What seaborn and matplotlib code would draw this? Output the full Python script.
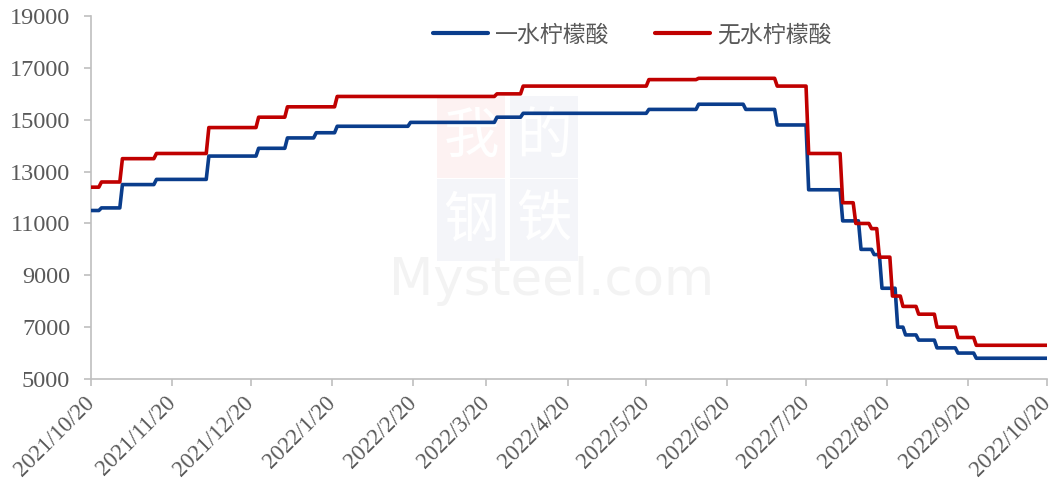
import pandas as pd
import matplotlib
matplotlib.use("Agg")
import matplotlib.pyplot as plt
import matplotlib.dates as mdates
from matplotlib.patches import Rectangle
import seaborn as sns

sns.set_theme(style="white")
plt.rcParams["font.family"] = ["Liberation Serif", "Noto Sans CJK SC"]

# price change dates and levels (price holds until the next change)
blue_name = "一水柠檬酸"
blue_dates = ["2021-10-20", "2021-10-24", "2021-11-01", "2021-11-14", "2021-12-04",
              "2021-12-23", "2022-01-03", "2022-01-14", "2022-01-22", "2022-02-19",
              "2022-03-24", "2022-04-03", "2022-05-21", "2022-06-09", "2022-06-27",
              "2022-07-09", "2022-07-21", "2022-08-03", "2022-08-10", "2022-08-15",
              "2022-08-18", "2022-08-24", "2022-08-27", "2022-09-01", "2022-09-08",
              "2022-09-16", "2022-09-23"]
blue_vals = [11500, 11600, 12500, 12700, 13600, 13900, 14300, 14500, 14750, 14900,
             15100, 15250, 15400, 15600, 15400, 14800, 12300, 11100, 10000, 9800,
             8500, 7000, 6700, 6500, 6200, 6000, 5800]

red_name = "无水柠檬酸"
red_dates = ["2021-10-20", "2021-10-24", "2021-11-01", "2021-11-14", "2021-12-04",
             "2021-12-23", "2022-01-03", "2022-01-22", "2022-03-24", "2022-04-03",
             "2022-05-21", "2022-06-09", "2022-07-09", "2022-07-21", "2022-08-03",
             "2022-08-08", "2022-08-14", "2022-08-17", "2022-08-22", "2022-08-26",
             "2022-09-01", "2022-09-08", "2022-09-16", "2022-09-23"]
red_vals = [12400, 12600, 13500, 13700, 14700, 15100, 15500, 15900, 16000, 16300,
            16550, 16600, 16300, 13700, 11800, 11000, 10800, 9700, 8200, 7800,
            7500, 7000, 6600, 6300]

start, end = "2021-10-20", "2022-10-20"
tick_dates = pd.date_range("2021-10-01", "2022-10-01", freq="MS") + pd.Timedelta(days=19)
y_ticks = list(range(5000, 19001, 2000))


def daily(dates, vals, name):
    s = pd.Series(vals, index=pd.to_datetime(dates))
    s = s.reindex(pd.date_range(start, end, freq="D")).ffill()
    return pd.DataFrame({"date": s.index, "price": s.values, "series": name})


df = pd.concat([daily(blue_dates, blue_vals, blue_name),
                daily(red_dates, red_vals, red_name)], ignore_index=True)

fig = plt.figure(figsize=(10.58, 4.88), dpi=100)
ax = fig.add_axes([0.086, 0.2234, 0.9036, 0.7436])

# faint watermark: four tiles plus "Mysteel.com"
wm_chars = [("我", 0.362, 0.555, "#fdf2f2"), ("的", 0.438, 0.555, "#f4f5f9"),
            ("钢", 0.362, 0.325, "#f4f5f9"), ("铁", 0.438, 0.325, "#f4f5f9")]
for ch, x0, y0, c in wm_chars:
    ax.add_patch(Rectangle((x0, y0), 0.071, 0.225, transform=ax.transAxes,
                           facecolor=c, edgecolor="none", zorder=0))
    ax.text(x0 + 0.0355, y0 + 0.112, ch, transform=ax.transAxes, ha="center", va="center",
            fontsize=40, color="white", family=["Noto Sans CJK SC"], zorder=0.5)
ax.text(0.482, 0.27, "Mysteel.com", transform=ax.transAxes, ha="center", va="center",
        fontsize=37, color="#f3f3f3", family=["DejaVu Sans"], zorder=0.5)

sns.lineplot(data=df, x="date", y="price", hue="series",
             palette={blue_name: "#0a3d8c", red_name: "#c00000"},
             linewidth=2.6, ax=ax, zorder=3)

ax.set_xlim(pd.Timestamp(start), pd.Timestamp(end))
ax.set_ylim(5000, 19000)
ax.set_yticks(y_ticks)
ax.set_xticks(tick_dates)
ax.xaxis.set_major_formatter(mdates.DateFormatter("%Y/%-m/%-d"))
ax.set_xlabel("")
ax.set_ylabel("")

for side in ["top", "right"]:
    ax.spines[side].set_visible(False)
for side in ["left", "bottom"]:
    ax.spines[side].set_color("#bfbfbf")
    ax.spines[side].set_linewidth(1.2)

ax.tick_params(axis="both", colors="#595959", labelsize=17.5, length=5,
               width=1.2, direction="out", left=True, bottom=True)
ax.tick_params(axis="both", color="#bfbfbf")
ax.tick_params(axis="y", pad=10)
ax.tick_params(axis="x", pad=10, labelsize=16.5)
plt.setp(ax.get_xticklabels(), rotation=45, ha="right", va="center", rotation_mode="anchor")

leg = ax.legend(loc="center", bbox_to_anchor=(0.566, 0.948), ncol=2, frameon=False,
                prop={"family": ["Noto Sans CJK SC"], "size": 16.5},
                handlelength=2.4, columnspacing=2.0, handletextpad=0.3)
for t in leg.get_texts():
    t.set_color("#595959")
for line in leg.get_lines():
    line.set_linewidth(3)

fig.savefig("out.png", dpi=100)
